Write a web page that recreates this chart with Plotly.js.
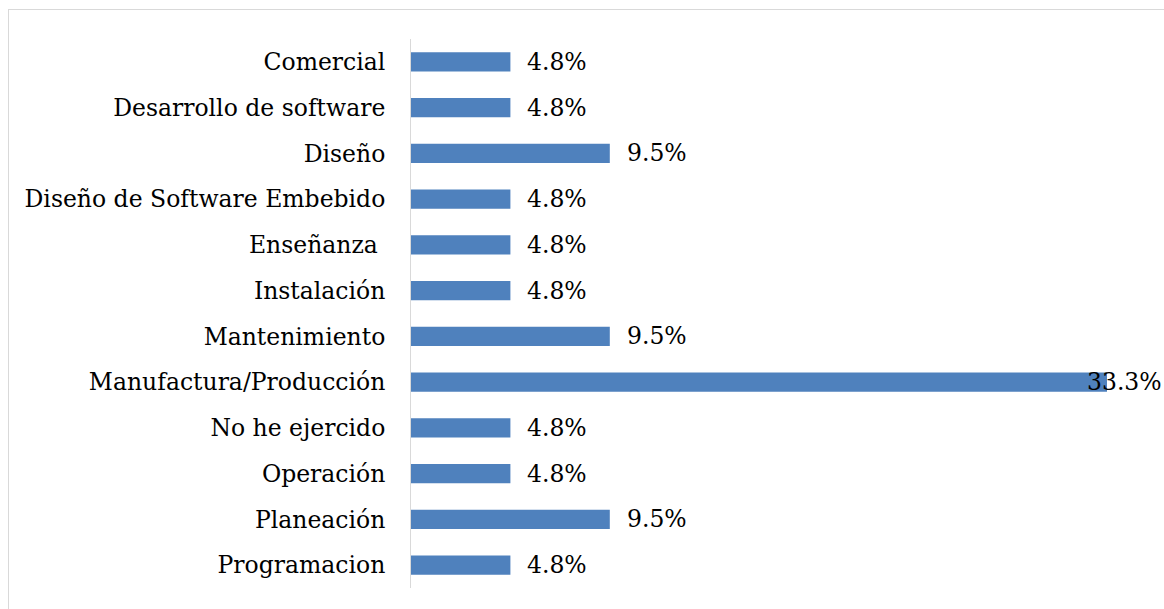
<!DOCTYPE html>
<html><head><meta charset="utf-8">
<script src="https://cdn.plot.ly/plotly-3.0.1.min.js"></script>
<style>
html,body{margin:0;padding:0;background:#fff;}
#chart{width:1164px;height:609px;position:absolute;left:0;top:0;}
#frame{position:absolute;left:8px;top:9px;width:1200px;height:700px;border-top:1px solid #d9d9d9;border-left:1px solid #d9d9d9;pointer-events:none;}
</style></head>
<body>
<div id="chart"></div>
<div id="frame"></div>
<script>
const categories = ["Comercial","Desarrollo de software","Diseño","Diseño de Software Embebido","Enseñanza ","Instalación","Mantenimiento","Manufactura/Producción","No he ejercido","Operación","Planeación","Programacion"];
const values = [4.76,4.76,9.52,4.76,4.76,4.76,9.52,33.33,4.76,4.76,9.52,4.76];
const labels = ["4.8%","4.8%","9.5%","4.8%","4.8%","4.8%","9.5%","33.3%","4.8%","4.8%","9.5%","4.8%"];

const fontFam = "DejaVu Serif, serif";
const fontSize = 23.5;
const xMax = 33.33;
const annotations = values.map((v,i)=>({
  x: v, y: categories[i], xref:'x', yref:'y', text: labels[i], showarrow:false,
  xanchor:'left', xshift: v >= xMax ? -22 : 15,
  font:{family:fontFam,size:fontSize,color:'#000'}
}));

Plotly.newPlot('chart',[{
  type:'bar', orientation:'h', y:categories, x:values,
  marker:{color:'#4F81BD'}, hoverinfo:'skip'
}],{
  width:1164,height:609,
  margin:{l:411,r:57,t:39,b:21,pad:0},
  paper_bgcolor:'#fff',plot_bgcolor:'#fff',
  bargap:0.58,
  showlegend:false,
  xaxis:{range:[0,xMax],showgrid:false,zeroline:false,showticklabels:false,showline:false,ticks:''},
  yaxis:{autorange:'reversed',showgrid:false,zeroline:false,showline:true,linecolor:'#d9d9d9',linewidth:1,ticks:'',
         ticklabelstandoff:20,tickfont:{family:fontFam,size:fontSize,color:'#000'}},
  annotations:annotations
},{displayModeBar:false,staticPlot:true});
</script>
</body></html>
